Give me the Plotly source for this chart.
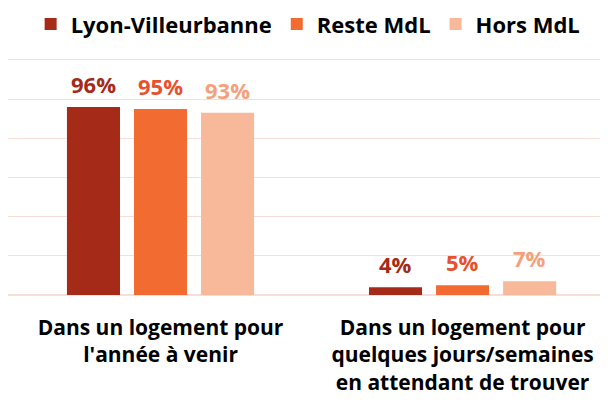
import plotly.graph_objects as go

categories = ["Dans un logement pour<br>l'année à venir",
              "Dans un logement pour<br>quelques jours/semaines<br>en attendant de trouver"]
series_names = ["Lyon-Villeurbanne", "Reste MdL", "Hors MdL"]
lyon = [96, 4]
reste = [95, 5]
hors = [93, 7]
values = [lyon, reste, hors]
bar_colors = ["#A52A17", "#F26B30", "#F7B99A"]
label_colors = ["#A52A17", "#E8502E", "#F4A07A"]

FONT = "Open Sans"
fig = go.Figure()
for name, vals, col in zip(series_names, values, bar_colors):
    fig.add_trace(go.Bar(name=name, x=categories, y=vals, marker=dict(color=col, line=dict(width=0))))

slot = 67
for i, (vals, lc) in enumerate(zip(values, label_colors)):
    for c, v in zip(categories, vals):
        fig.add_annotation(x=c, y=v, xref="x", yref="y", text=f"{v}%", showarrow=False,
                           xshift=(i - 1) * slot, yshift=6, yanchor="bottom",
                           font=dict(family=FONT, size=22, color=lc, weight="bold"))

fig.update_layout(
    width=608, height=405,
    margin=dict(l=0, r=16, t=48, b=118, autoexpand=False),
    paper_bgcolor="white", plot_bgcolor="white",
    barmode="group", bargap=0.334, bargroupgap=0.209,
    font=dict(family=FONT, color="black"),
    legend=dict(orientation="h", x=0.507, xanchor="center", y=0.96, yanchor="middle",
                yref="container", font=dict(family=FONT, size=22, color="black", weight="bold"),
                traceorder="normal"),
    showlegend=True,
)
fig.update_xaxes(range=[-0.505, 1.455], showgrid=False, showline=False, ticks="",
                 automargin=False, ticklabelstandoff=18,
                 tickfont=dict(family=FONT, size=21, color="black", weight="bold"))
fig.update_yaxes(range=[0, 122], tickvals=[20, 40, 60, 80, 100, 120], showticklabels=False,
                 gridcolor="#F8DED8", automargin=False,
                 gridwidth=1.2, zeroline=True, zerolinecolor="#F8DED8", zerolinewidth=1.5, showline=False)

fig.write_html("out.html")
